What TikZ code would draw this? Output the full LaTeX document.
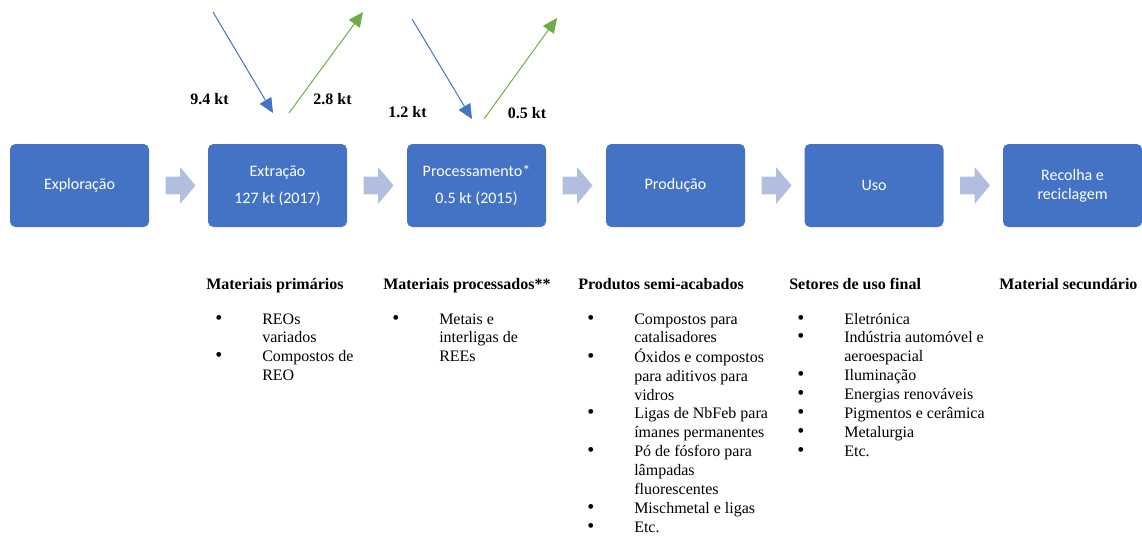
\documentclass[tikz,border=0pt]{standalone}
\usepackage{fontspec}
\setmainfont{Liberation Serif}
\newfontfamily\calibri{Carlito}
\usepackage{xcolor}
\usepackage{tikz}
\usetikzlibrary{shapes.arrows, arrows.meta, positioning}

\definecolor{stageblue}{RGB}{68,114,196}
\definecolor{flowgray}{RGB}{178,190,224}
\definecolor{outgreen}{RGB}{112,173,71}

\newcommand{\dotitem}{{\fontsize{15}{14}\selectfont\textbullet}}

\begin{document}
\begin{tikzpicture}[
    x=0.75pt, y=-0.75pt,
    stage/.style={rectangle, rounded corners=4pt, fill=stageblue, text=white, minimum width=104.25pt, minimum height=62.25pt, align=center, font=\calibri\fontsize{12}{14}\selectfont},
    flow/.style={single arrow, fill=flowgray, draw=none, minimum height=22.5pt, minimum width=0pt, single arrow head extend=7.1pt, single arrow tip angle=100, inner sep=0pt},
    inarrow/.style={-{Triangle[length=11pt,width=10pt]}, draw=stageblue, line width=0.75pt},
    outarrow/.style={-{Triangle[length=11pt,width=10pt]}, draw=outgreen, line width=0.75pt},
    amount/.style={font=\bfseries\fontsize{12}{14}\selectfont},
    heading/.style={anchor=base west, inner sep=0pt, font=\bfseries\fontsize{12}{14.15}\selectfont},
    itemlist/.style={anchor=base west, inner sep=0pt, font=\fontsize{12}{14.15}\selectfont}
]
\useasboundingbox (0,0) rectangle (1142,536);

% value chain
\node[stage] (expl) at (79.5,185.5) {Exploração};
\node[stage] (extr) at (277.5,185.5) {Extração\\[6pt]127 kt (2017)};
\node[stage] (proc) at (476.5,185.5) {Processamento*\\[6pt]0.5 kt (2015)};
\node[stage] (prod) at (675.5,185.5) {Produção};
\node[stage] (uso) at (874,185.5) {Uso};
\node[stage] (recl) at (1072.5,185.5) {Recolha e\\reciclagem};

\node[flow, right=12pt of expl] (f1) {\rule{0pt}{12.75pt}};
\node[flow, right=12pt of extr] (f2) {\rule{0pt}{12.75pt}};
\node[flow, right=12pt of proc] (f3) {\rule{0pt}{12.75pt}};
\node[flow, right=12pt of prod] (f4) {\rule{0pt}{12.75pt}};
\node[flow, right=12pt of uso] (f5) {\rule{0pt}{12.75pt}};

% imports / exports
\coordinate (in1) at (213,12);
\coordinate (in1t) at (273,113);
\coordinate (out1) at (289,113);
\coordinate (out1t) at (363,12);
\coordinate (in2) at (412,19);
\coordinate (in2t) at (472,119);
\coordinate (out2) at (484,119);
\coordinate (out2t) at (557,18);

\draw[inarrow] (in1) -- (in1t);
\draw[outarrow] (out1) -- (out1t);
\draw[inarrow] (in2) -- (in2t);
\draw[outarrow] (out2) -- (out2t);

\node[amount] (v1) at (209.5,99) {9.4 kt};
\node[amount] (v2) at (332.5,99) {2.8 kt};
\node[amount] (v3) at (407.5,112) {1.2 kt};
\node[amount] (v4) at (527,113) {0.5 kt};

% materials per stage
\node[heading] (h1) at (206,289) {Materiais primários};
\node[heading] (h2) at (383,289) {Materiais processados**};
\node[heading] (h3) at (578,289) {Produtos semi-acabados};
\node[heading] (h4) at (789,289) {Setores de uso final};
\node[heading] (h5) at (999,289) {Material secundário};

\node[itemlist] (l1) at (215,324) {\begin{tabular}[t]{@{}p{35.25pt}@{}l@{}}
\dotitem & REOs\\
 & variados\\
\dotitem & Compostos de\\
 & REO
\end{tabular}};
\node[itemlist] (l2) at (392,324) {\begin{tabular}[t]{@{}p{35.25pt}@{}l@{}}
\dotitem & Metais e\\
 & interligas de\\
 & REEs
\end{tabular}};
\node[itemlist] (l3) at (587,324) {\begin{tabular}[t]{@{}p{35.25pt}@{}l@{}}
\dotitem & Compostos para\\
 & catalisadores\\
\dotitem & Óxidos e compostos\\
 & para aditivos para\\
 & vidros\\
\dotitem & Ligas de NbFeb para\\
 & ímanes permanentes\\
\dotitem & Pó de fósforo para\\
 & lâmpadas\\
 & fluorescentes\\
\dotitem & Mischmetal e ligas\\
\dotitem & Etc.
\end{tabular}};
\node[itemlist] (l4) at (797,324) {\begin{tabular}[t]{@{}p{35.25pt}@{}l@{}}
\dotitem & Eletrónica\\
\dotitem & Indústria automóvel e\\
 & aeroespacial\\
\dotitem & Iluminação\\
\dotitem & Energias renováveis\\
\dotitem & Pigmentos e cerâmica\\
\dotitem & Metalurgia\\
\dotitem & Etc.
\end{tabular}};

\end{tikzpicture}
\end{document}
